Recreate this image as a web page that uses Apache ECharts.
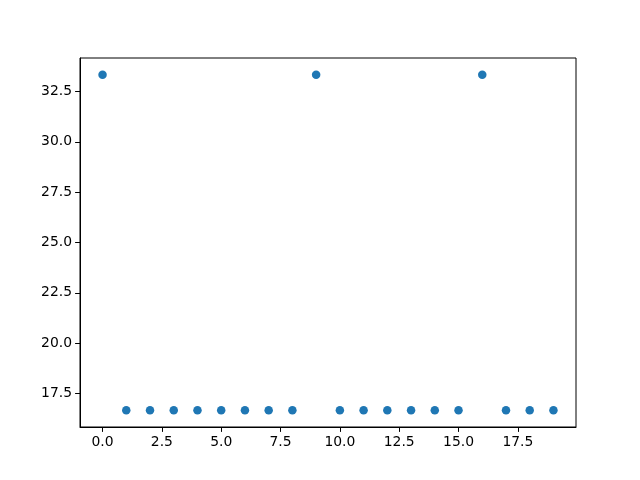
<!DOCTYPE html>
<html>
<head>
<meta charset="utf-8">
<script src="https://cdn.jsdelivr.net/npm/echarts@6/dist/echarts.min.js"></script>
<style>
html,body{margin:0;padding:0;background:#fff;}
#chart{width:640px;height:480px;}
</style>
</head>
<body>
<div id="chart"></div>
<script>
var xValues = [0, 1, 2, 3, 4, 5, 6, 7, 8, 9, 10, 11, 12, 13, 14, 15, 16, 17, 18, 19];
var yValues = [33.333, 16.667, 16.667, 16.667, 16.667, 16.667, 16.667, 16.667, 16.667, 33.333,
               16.667, 16.667, 16.667, 16.667, 16.667, 16.667, 33.333, 16.667, 16.667, 16.667];
var xTicks = [0, 2.5, 5, 7.5, 10, 12.5, 15, 17.5];
var yTicks = [17.5, 20, 22.5, 25, 27.5, 30, 32.5];

var points = xValues.map(function (x, i) { return [x, yValues[i]]; });

var xMin = Math.min.apply(null, xValues), xMax = Math.max.apply(null, xValues);
var yMin = Math.min.apply(null, yValues), yMax = Math.max.apply(null, yValues);
var xPad = (xMax - xMin) * 0.05, yPad = (yMax - yMin) * 0.05;

var font = {fontFamily: 'DejaVu Sans', fontSize: 13.9, color: '#000'};

var chart = echarts.init(document.getElementById('chart'), null, {renderer: 'canvas'});
chart.setOption({
  animation: false,
  backgroundColor: '#fff',
  grid: {left: 80, right: 64, top: 58, bottom: 53, show: true, borderColor: '#000', borderWidth: 1, backgroundColor: 'transparent'},
  xAxis: {
    type: 'value',
    min: xMin - xPad,
    max: xMax + xPad,
    splitLine: {show: false},
    axisLine: {show: true, onZero: false, lineStyle: {color: '#000', width: 1}},
    axisTick: {show: true, length: 4.9, lineStyle: {color: '#000', width: 1}, customValues: xTicks},
    axisLabel: Object.assign({margin: 8, customValues: xTicks, formatter: function (v) { return (+v).toFixed(1); }}, font)
  },
  yAxis: {
    type: 'value',
    min: yMin - yPad,
    max: yMax + yPad,
    splitLine: {show: false},
    axisLine: {show: true, onZero: false, lineStyle: {color: '#000', width: 1}},
    axisTick: {show: true, length: 4.9, lineStyle: {color: '#000', width: 1}, customValues: yTicks},
    axisLabel: Object.assign({margin: 8, customValues: yTicks, formatter: function (v) { return (+v).toFixed(1); }}, font)
  },
  series: [{
    type: 'scatter',
    data: points,
    symbol: 'circle',
    symbolSize: 8.5,
    itemStyle: {color: '#1f77b4', opacity: 1}
  }]
});
</script>
</body>
</html>
